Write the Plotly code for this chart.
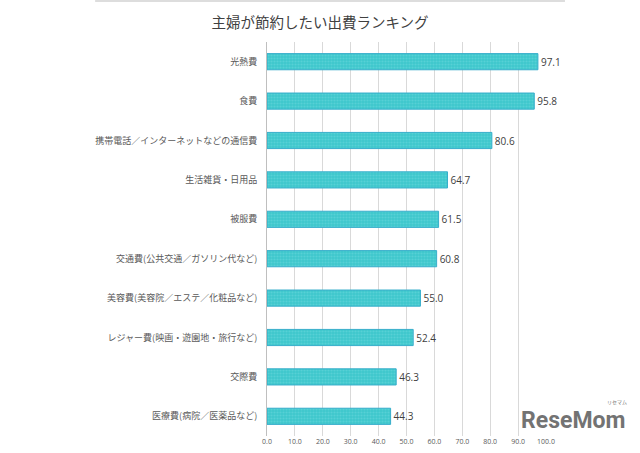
import plotly.graph_objects as go

categories = ["光熱費", "食費", "携帯電話／インターネットなどの通信費", "生活雑貨・日用品", "被服費",
              "交通費(公共交通／ガソリン代など)", "美容費(美容院／エステ／化粧品など)",
              "レジャー費(映画・遊園地・旅行など)", "交際費", "医療費(病院／医薬品など)"]
values = [97.1, 95.8, 80.6, 64.7, 61.5, 60.8, 55.0, 52.4, 46.3, 44.3]
tick_vals = [0, 10, 20, 30, 40, 50, 60, 70, 80, 90, 100]
tick_text = ["0.0", "10.0", "20.0", "30.0", "40.0", "50.0", "60.0", "70.0", "80.0", "90.0", "100.0"]
title = "主婦が節約したい出費ランキング"

fig = go.Figure(go.Bar(
    y=categories, x=values, orientation="h",
    width=0.41,
    marker=dict(color="#3ec7cc", line=dict(color="#38aecb", width=1),
                pattern=dict(shape=".", fgcolor="#6fdadd", bgcolor="#3ec7cc", size=3, solidity=0.4)),
    text=[f"{v:.1f}" for v in values], textposition="outside",
    textfont=dict(size=10, color="#404040", family="Open Sans"),
    cliponaxis=False,
))

fig.update_layout(
    width=640, height=453,
    margin=dict(l=267, r=94, t=42, b=17, autoexpand=False),
    plot_bgcolor="white", paper_bgcolor="white",
    title=dict(text=title, x=0.5, xanchor="center", y=0.95, yanchor="middle",
               font=dict(size=14.5, color="#404040", family="Noto Sans CJK JP")),
    xaxis=dict(range=[0, 100], tickvals=tick_vals, ticktext=tick_text,
               showgrid=True, gridcolor="#d9d9d9", gridwidth=1, zeroline=False,
               tickfont=dict(size=7, color="#595959", family="Open Sans"), ticks="",
               showline=False, automargin=False),
    yaxis=dict(categoryorder="array", categoryarray=categories[::-1],
               tickfont=dict(size=9, color="#595959", family="Noto Sans CJK JP"),
               ticks="outside", ticklen=7, tickcolor="rgba(0,0,0,0)",
               showline=True, linecolor="#bfbfbf", linewidth=1, automargin=False),
    showlegend=False,
    shapes=[dict(type="line", xref="paper", yref="paper", x0=-0.616, x1=1.068, y0=1.104, y1=1.104,
                 line=dict(color="#dddddd", width=2))],
    annotations=[
        dict(text="<b>ReseMom</b>", xref="paper", yref="paper", x=1.29, y=0.0,
             xanchor="right", yanchor="bottom", showarrow=False,
             font=dict(size=23, color="#737373", family="Roboto")),
        dict(text="リセマム", xref="paper", yref="paper", x=1.256, y=0.072,
             xanchor="center", yanchor="bottom", showarrow=False,
             font=dict(size=5, color="#737373", family="Noto Sans CJK JP")),
    ],
)

fig.write_html("out.html", config={"displayModeBar": False},
               post_script="document.body.style.margin='0';document.body.style.padding='0';")
